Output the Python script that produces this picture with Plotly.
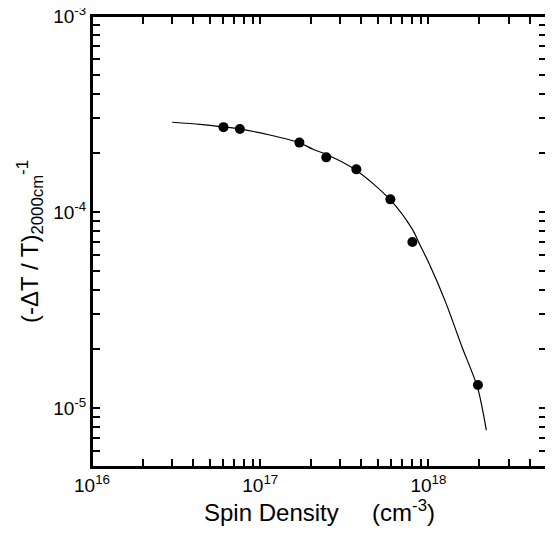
import plotly.graph_objects as go

spin_density = [6.05e16, 7.57e16, 1.71e17, 2.47e17, 3.73e17, 5.94e17, 8.03e17, 1.97e18]
delta_t = [2.71e-4, 2.65e-4, 2.26e-4, 1.90e-4, 1.65e-4, 1.16e-4, 7.03e-5, 1.31e-5]

# fitted curve
curve_x = [3.0e16, 4.4e16, 6.0e16, 7.6e16, 1.14e17, 1.7e17, 2.06e17, 2.5e17, 3.7e17,
           5.9e17, 8.0e17, 8.9e17, 1.0e18, 1.26e18, 1.58e18, 1.96e18, 2.21e18]
curve_y = [2.87e-4, 2.80e-4, 2.72e-4, 2.65e-4, 2.47e-4, 2.26e-4, 2.09e-4, 1.96e-4, 1.64e-4,
           1.16e-4, 8.2e-5, 6.8e-5, 5.55e-5, 3.5e-5, 2.06e-5, 1.27e-5, 7.7e-6]

# tick labels
x_major = [1e16, 1e17, 1e18]
x_major_text = ['10<sup>16</sup>', '10<sup>17</sup>', '10<sup>18</sup>']
y_major = [1e-5, 1e-4, 1e-3]
y_major_text = ['10<sup>-5</sup>', '10<sup>-4</sup>', '10<sup>-3</sup>']
x_minor = [m * 10 ** e for e in (16, 17, 18) for m in range(2, 10) if m * 10 ** e < 5e18]
y_minor = [m * 10 ** e for e in (-6, -5, -4) for m in range(2, 10) if m * 10 ** e >= 5e-6]

fig = go.Figure()
fig.add_trace(go.Scatter(x=curve_x, y=curve_y, mode='lines',
                         line=dict(color='black', width=1.2, shape='spline', smoothing=0.8),
                         showlegend=False))
fig.add_trace(go.Scatter(x=spin_density, y=delta_t, mode='markers',
                         marker=dict(color='black', size=10), showlegend=False))

font = 'Liberation Sans, Arial'
axis_common = dict(
    type='log', showgrid=False, zeroline=False, automargin=False,
    showline=True, linecolor='black', linewidth=2, mirror='ticks',
    ticks='inside', ticklen=8, tickwidth=1.5, tickcolor='black',
    tickfont=dict(family=font, size=19, color='black'),
    title_font=dict(family=font, size=24, color='black'),
)

# page body adds an 8px offset, so the figure is drawn 8px smaller
fig.update_layout(
    width=545, height=531,
    margin=dict(l=84, r=6, t=8, b=72),
    plot_bgcolor='white', paper_bgcolor='white',
    xaxis=dict(axis_common, range=[16, 18.705],
               tickvals=x_major + x_minor, ticktext=x_major_text + [''] * len(x_minor),
               title=dict(text='Spin Density     (cm<sup>-3</sup>)', standoff=2)),
    yaxis=dict(axis_common, range=[-5.301, -3], ticklabeloverflow='allow',
               tickvals=y_major + y_minor, ticktext=y_major_text + [''] * len(y_minor),
               title=dict(text='(-ΔT / T)<sub>2000cm</sub><sup>-1</sup>', standoff=8)),
    shapes=[dict(type='rect', xref='paper', yref='paper', x0=0, y0=0, x1=1, y1=1,
                 line=dict(color='black', width=2))],
)

fig.write_html("out.html")
